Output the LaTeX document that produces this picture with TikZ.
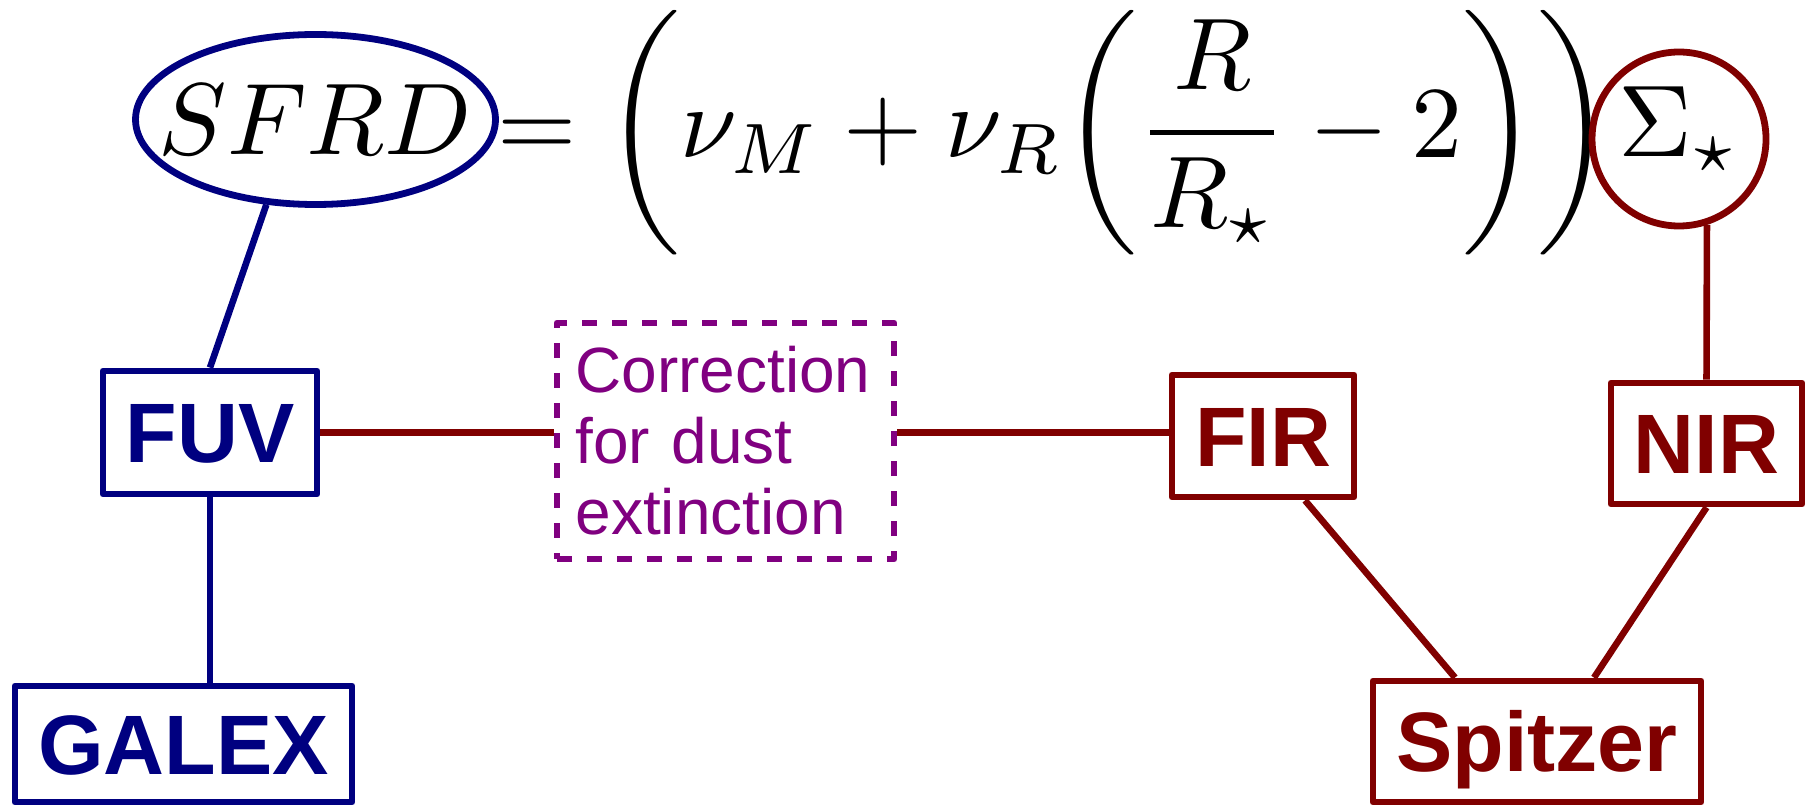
\documentclass[tikz,border=0pt]{standalone}
\usepackage{fontspec}
\usepackage{amsmath}
\usetikzlibrary{shapes.geometric}
\newfontfamily\boxfont{Liberation Sans}
\definecolor{sfnavy}{RGB}{0,0,128}
\definecolor{sfred}{RGB}{128,0,0}
\definecolor{sfpurple}{RGB}{128,0,128}
% 10pt math blown up to the size of the picture
\newcommand{\bigmath}[1]{\scalebox{2.9}{$\displaystyle #1$}}

\begin{document}
\begin{tikzpicture}[
    mathnode/.style={inner sep=0pt},
    boxline/.style={draw, line width=0.068cm, inner sep=0pt, line join=round},
    labelbox/.style={boxline, font=\boxfont\bfseries\fontsize{24}{28}\selectfont,
      text height=0.6cm, text depth=0pt},
    link/.style={line width=0.066cm}]
  \useasboundingbox (0,0) rectangle (18.08,-8.06);
  % the formula
  \node[mathnode, ellipse, draw=sfnavy, line width=0.068cm,
    minimum width=3.6cm, minimum height=1.7cm] (sfrd) at (3.155,-1.195)
    {\makebox[2cm]{\bigmath{SFRD}}};
  \node[mathnode, anchor=base west] (rhs) at (4.97,-1.58)
    {\bigmath{=\biggl(\nu_M+\nu_R\biggl(\frac{R}{R_\star}-2\biggr)\biggr)}};
  \node[mathnode, circle, draw=sfred, line width=0.068cm,
    minimum size=1.74cm, text depth=0.35cm] (sigma) at (16.79,-1.39) {\bigmath{\Sigma_\star}};
  % boxes
  \node[labelbox, draw=sfnavy, text=sfnavy, minimum width=2.14cm, minimum height=1.23cm]
    (fuv) at (2.10,-4.325) {FUV};
  \node[labelbox, draw=sfnavy, text=sfnavy, minimum width=3.37cm, minimum height=1.16cm]
    (galex) at (1.835,-7.44) {GALEX};
  \node[boxline, draw=sfpurple, text=sfpurple, dash pattern=on 0.15cm off 0.15cm,
    minimum width=3.37cm, minimum height=2.36cm, text width=3.0cm, align=left,
    font=\boxfont\fontsize{18.2}{20.2}\selectfont] (corr) at (7.255,-4.41)
    {Correction\\for dust\\extinction};
  \node[labelbox, draw=sfred, text=sfred, minimum width=1.82cm, minimum height=1.22cm]
    (fir) at (12.63,-4.36) {FIR};
  \node[labelbox, draw=sfred, text=sfred, minimum width=1.91cm, minimum height=1.21cm]
    (nir) at (17.065,-4.435) {NIR};
  \node[labelbox, draw=sfred, text=sfred, minimum width=3.28cm, minimum height=1.21cm]
    (spitzer) at (15.37,-7.415) {Spitzer};
  % connectors
  \draw[link, sfnavy] (sfrd.240) -- (fuv.north);
  \draw[link, sfnavy] (fuv.south) -- (fuv.south |- galex.north);
  \draw[link, sfred] (fuv.east) -- (corr.west |- fuv.east);
  \draw[link, sfred] (corr.east |- fuv.east) -- (fir.west |- fuv.east);
  \draw[link, sfred] (sigma.288) -- (nir.north);
  \draw[link, sfred] ([xshift=4.2mm]fir.south) -- ([xshift=-8.2mm]spitzer.north);
  \draw[link, sfred] (nir.south) -- ([xshift=5.7mm]spitzer.north);
\end{tikzpicture}
\end{document}
